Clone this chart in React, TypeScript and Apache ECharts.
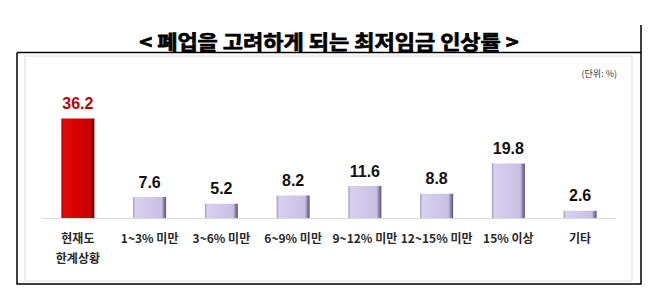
import React, { useEffect, useRef } from "react";
import * as echarts from "echarts";

const titleText = "< 폐업을 고려하게 되는 최저임금 인상률 >";
const unitText = "(단위: %)";
const categories = ["현재도\n한계상황", "1~3% 미만", "3~6% 미만", "6~9% 미만", "9~12% 미만", "12~15% 미만", "15% 이상", "기타"];
const values = [36.2, 7.6, 5.2, 8.2, 11.6, 8.8, 19.8, 2.6];
const highlightIndex = [0];

const lavender = new echarts.graphic.LinearGradient(0, 0, 1, 0, [
  { offset: 0, color: "#9d94bb" },
  { offset: 0.07, color: "#d9d1ef" },
  { offset: 0.5, color: "#d0c7e9" },
  { offset: 0.86, color: "#c9bfe3" },
  { offset: 0.93, color: "#8a81a8" },
  { offset: 1, color: "#5b536f" },
]);
const red = new echarts.graphic.LinearGradient(0, 0, 1, 0, [
  { offset: 0, color: "#a40000" },
  { offset: 0.07, color: "#e00a0a" },
  { offset: 0.5, color: "#d40000" },
  { offset: 0.88, color: "#c80000" },
  { offset: 0.95, color: "#8a0000" },
  { offset: 1, color: "#600000" },
]);

export default function App() {
  const ref = useRef<HTMLDivElement>(null);
  useEffect(() => {
    if (!ref.current) return;
    const chart = echarts.init(ref.current, null, { renderer: "svg" });
    const cjk = "'Noto Sans CJK KR', 'Noto Sans', sans-serif";
    chart.setOption({
      animation: false,
      backgroundColor: "#ffffff",
      grid: { left: 42, right: 54, top: 108, bottom: 86 },
      xAxis: {
        type: "category",
        data: categories,
        axisLine: { lineStyle: { color: "#d9d9d9", width: 1 } },
        axisTick: { show: false },
        axisLabel: {
          interval: 0,
          margin: 9,
          fontSize: 12,
          fontWeight: "bold",
          color: "#2a2a2a",
          lineHeight: 20,
          fontFamily: cjk,
        },
      },
      yAxis: {
        type: "value",
        min: 0,
        max: 40,
        show: false,
        splitLine: { show: false },
      },
      series: [
        {
          type: "bar",
          barWidth: 33,
          data: values.map((v, i) => ({
            value: v,
            itemStyle: { color: highlightIndex.includes(i) ? red : lavender },
            label: { color: highlightIndex.includes(i) ? "#c00000" : "#111111" },
          })),
          label: {
            show: true,
            position: "top",
            distance: 7,
            fontSize: 16,
            fontWeight: "bold",
            fontFamily: "'Liberation Sans', Arial, sans-serif",
          },
        },
      ],
      graphic: [
        {
          type: "rect",
          shape: { x: 25, y: 56, width: 607, height: 225 },
          style: { fill: "none", stroke: "#dddddd", lineWidth: 1 },
          silent: true,
        },
        {
          type: "polyline",
          shape: { points: [[17, 52.5], [641, 52.5]] },
          style: { stroke: "#000", lineWidth: 1.5, fill: "none" },
        },
        {
          type: "polyline",
          shape: { points: [[17, 52.5], [17, 284], [641, 284], [641, 25]] },
          style: { stroke: "#000", lineWidth: 1.5, fill: "none" },
        },
        {
          type: "text",
          x: 329,
          y: 41,
          scaleX: 1.1,
          style: {
            text: titleText,
            fontSize: 20,
            fontWeight: "bold",
            fontFamily: cjk,
            fill: "#000",
            stroke: "#000",
            lineWidth: 0.7,
            align: "center",
            verticalAlign: "middle",
          },
        },
        {
          type: "text",
          x: 617,
          y: 73,
          style: {
            text: unitText,
            fontSize: 9,
            fontFamily: cjk,
            fill: "#333",
            align: "right",
            verticalAlign: "middle",
          },
        },
      ],
    });
    return () => chart.dispose();
  }, []);
  return (
    <div
      ref={ref}
      style={{ position: "fixed", left: 0, top: 0, width: 670, height: 304 }}
    />
  );
}
